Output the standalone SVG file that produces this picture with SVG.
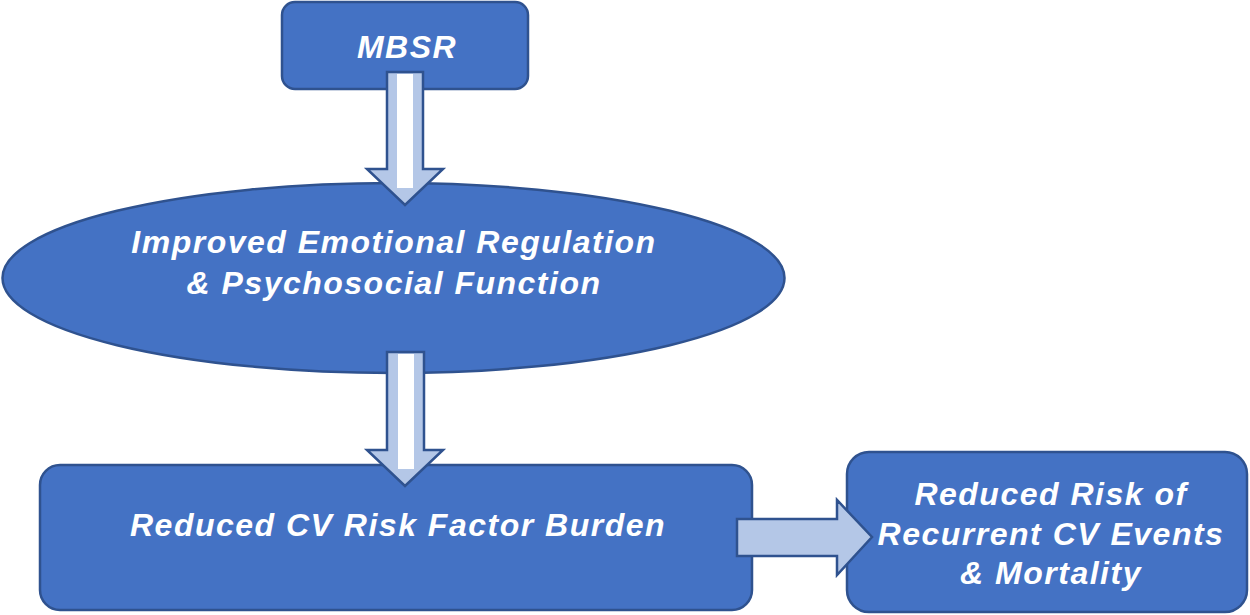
<svg xmlns="http://www.w3.org/2000/svg" width="1250" height="615" viewBox="0 0 1250 615">
<style>
.node{fill:#4472C4;stroke:#2F528F;stroke-width:2.5}
.arrow{fill:#B4C7E7;stroke:#2F528F;stroke-width:2.5;stroke-linejoin:miter}
.stripe{fill:#FFFFFF}
.t{fill:#FFFFFF;font-family:"Liberation Sans",Arial,sans-serif;font-weight:bold;font-style:italic;font-size:32px;letter-spacing:1.5px;text-anchor:middle}
</style>
<rect width="1250" height="615" fill="#FFFFFF"/>
<g id="mbsr">
<rect class="node" x="282" y="2" width="246" height="87" rx="13"/>
<text class="t" x="407" y="58">MBSR</text>
</g>
<g id="emotional">
<ellipse class="node" cx="393.5" cy="278" rx="391" ry="95"/>
<text class="t" x="394" y="253">Improved Emotional Regulation</text>
<text class="t" x="394" y="294">&amp; Psychosocial Function</text>
</g>
<g id="cvrisk">
<rect class="node" x="40" y="465" width="712" height="145" rx="20"/>
<text class="t" x="398" y="536">Reduced CV Risk Factor Burden</text>
</g>
<g id="outcome">
<rect class="node" x="847" y="452" width="400" height="160" rx="22"/>
<text class="t" x="1051" y="505">Reduced Risk of</text>
<text class="t" x="1051" y="545">Recurrent CV Events</text>
<text class="t" x="1051" y="584">&amp; Mortality</text>
</g>
<g id="connectors">
<path class="arrow" d="M387,72 L423,72 L423,169 L443,169 L405,205 L367,169 L387,169 Z"/>
<rect class="stripe" x="397" y="74" width="16" height="114"/>
<path class="arrow" d="M387,352 L424,352 L424,450 L443,450 L405,486 L367,450 L387,450 Z"/>
<rect class="stripe" x="398" y="354" width="16" height="115"/>
<path class="arrow" d="M737,519 L837,519 L837,500 L872,537 L837,575 L837,556 L737,556 Z"/>
</g>
</svg>
